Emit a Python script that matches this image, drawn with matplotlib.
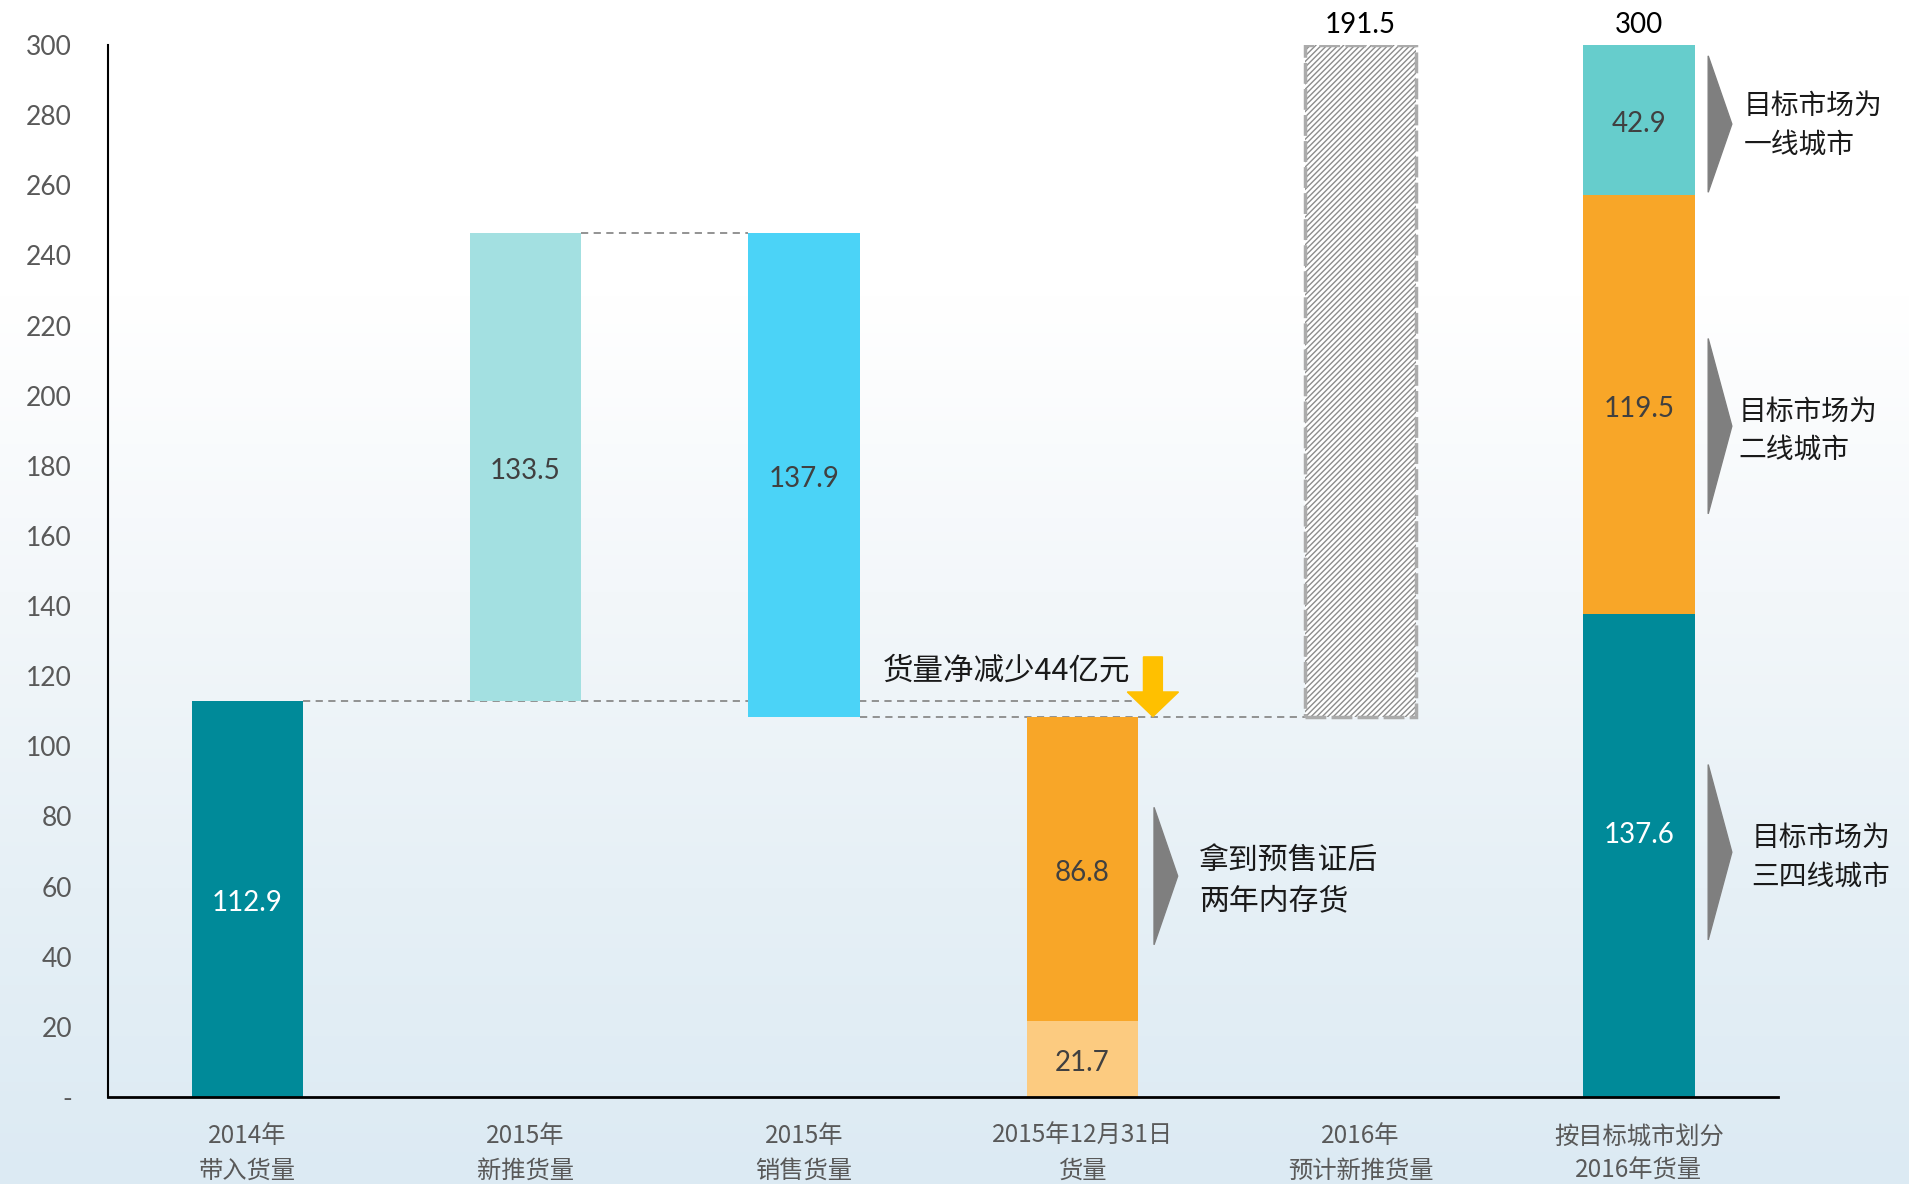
import numpy as np
import matplotlib
matplotlib.use("Agg")
import matplotlib.pyplot as plt
from matplotlib.patches import Polygon
from matplotlib.colors import LinearSegmentedColormap

# ---------------- data ----------------
categories = ["2014年\n带入货量", "2015年\n新推货量", "2015年\n销售货量",
              "2015年12月31日\n货量", "2016年\n预计新推货量", "按目标城市划分\n2016年货量"]
carry_2014 = 112.9
new_2015 = 133.5
sold_2015 = 137.9
stock_old = 21.7
stock_2yr = 86.8
new_2016 = 191.5
tier34 = 137.6
tier2 = 119.5
tier1 = 42.9
total_2016 = 300
net_decrease_text = "货量净减少44亿元"
yticks = list(range(0, 301, 20))
ytick_labels = ["-"] + [str(v) for v in yticks[1:]]

# ---------------- style ----------------
C_TEAL = "#008A99"
C_LTEAL = "#A3E0E1"
C_CYAN = "#4BD3F7"
C_ORANGE = "#F8A628"
C_LORANGE = "#FCCB80"
C_TURQ = "#66CDCC"
C_GRAY = "#7F7F7F"
TXT_GRAY = "#595959"
CJK = ["Noto Sans CJK SC", "DejaVu Sans"]
NUM = ["Lato", "DejaVu Sans"]

fig = plt.figure(figsize=(19.09, 11.84), dpi=100)

# background gradient
bg = fig.add_axes([0, 0, 1, 1], zorder=-10)
grad = np.linspace(0, 1, 256).reshape(-1, 1)
cmap = LinearSegmentedColormap.from_list("bg", ["#FFFFFF", "#FFFFFF", "#F3F7FA", "#E6F0F6", "#DCEAF3"])
bg.imshow(grad, aspect="auto", cmap=cmap, extent=[0, 1, 0, 1], origin="upper")
bg.axis("off")

ax = fig.add_axes([0.0566, 0.0735, 0.8748, 0.8885])
ax.patch.set_alpha(0)
x = np.arange(len(categories))
w = 0.4

# bars
ax.bar(x[0], carry_2014, w, color=C_TEAL, zorder=3)
ax.bar(x[1], new_2015, w, bottom=carry_2014, color=C_LTEAL, zorder=3)
top_2015 = carry_2014 + new_2015
end_2015 = top_2015 - sold_2015
ax.bar(x[2], sold_2015, w, bottom=end_2015, color=C_CYAN, zorder=3)
ax.bar(x[3], stock_old, w, color=C_LORANGE, zorder=3)
ax.bar(x[3], stock_2yr, w, bottom=stock_old, color=C_ORANGE, zorder=3)
ax.bar(x[4], new_2016, w, bottom=end_2015, color="white", edgecolor="#8C8C8C",
       hatch="//////", linewidth=0, zorder=3)
ax.bar(x[4], new_2016, w, bottom=end_2015, fill=False, edgecolor="#ABABAB",
       linewidth=2.5, linestyle=(0, (6, 1.5)), zorder=4)
ax.bar(x[5], tier34, w, color=C_TEAL, zorder=3)
ax.bar(x[5], tier2, w, bottom=tier34, color=C_ORANGE, zorder=3)
ax.bar(x[5], tier1, w, bottom=tier34 + tier2, color=C_TURQ, zorder=3)

# value labels
lab_kw = dict(ha="center", va="center", fontsize=20, family=NUM, zorder=6)
dy = -1.2
ax.text(x[0], carry_2014 / 2 + dy, f"{carry_2014}", color="white", **lab_kw)
ax.text(x[1], carry_2014 + new_2015 / 2 + dy, f"{new_2015}", color="#404040", **lab_kw)
ax.text(x[2], end_2015 + sold_2015 / 2 + dy, f"{sold_2015}", color="#404040", **lab_kw)
ax.text(x[3], stock_old / 2 + dy, f"{stock_old}", color="#404040", **lab_kw)
ax.text(x[3], stock_old + stock_2yr / 2 + dy, f"{stock_2yr}", color="#404040", **lab_kw)
ax.text(x[5], tier34 / 2 + 7 + dy, f"{tier34}", color="white", **lab_kw)
ax.text(x[5], tier34 + tier2 / 2 + dy, f"{tier2}", color="#404040", **lab_kw)
ax.text(x[5], tier34 + tier2 + tier1 / 2 + dy, f"{tier1}", color="#404040", **lab_kw)
for xi, val in [(x[4], new_2016), (x[5], total_2016)]:
    ax.annotate(f"{val}", (xi, total_2016), xytext=(0, 5), textcoords="offset points",
                ha="center", va="bottom", fontsize=20, family=NUM, color="black",
                annotation_clip=False)

# dashed connectors
dash_kw = dict(color="#8A8A8A", linestyle=(0, (4, 3)), linewidth=1.3, zorder=2)
ax.plot([x[0] + w / 2, x[3] + 0.22], [carry_2014, carry_2014], **dash_kw)
ax.plot([x[1] + w / 2, x[2] - w / 2], [top_2015, top_2015], **dash_kw)
ax.plot([x[2] + w / 2, x[4] - w / 2], [end_2015, end_2015], **dash_kw)

# yellow down arrow
ax_c = 3.254
arrow = Polygon([(ax_c - 0.034, 125.5), (ax_c + 0.034, 125.5), (ax_c + 0.034, 115.5),
                 (ax_c + 0.092, 115.5), (ax_c, end_2015), (ax_c - 0.092, 115.5),
                 (ax_c - 0.034, 115.5)], closed=True, color="#FFC000", zorder=5)
ax.add_patch(arrow)
ax.text(2.729, 121.6, net_decrease_text, ha="center", va="center", fontsize=22,
        family=CJK, color="#1A1A1A", zorder=6)

# gray chevrons with notes
def chevron(x0, y_top, y_bot, depth=0.085):
    ax.add_patch(Polygon([(x0, y_top), (x0 + depth, (y_top + y_bot) / 2), (x0, y_bot)],
                         closed=True, color=C_GRAY, zorder=5))

chevron(3.258, 82.6, 43.4)
chevron(5.249, 296.9, 258.0)
chevron(5.249, 216.3, 166.3)
chevron(5.249, 94.8, 44.8)
note_kw = dict(ha="left", va="center", family=CJK, color="#1A1A1A",
               linespacing=1.38, zorder=6)
ax.text(3.42, 61.8, "拿到预售证后\n两年内存货", fontsize=21.5, **note_kw)
ax.text(5.376, 277.0, "目标市场为\n一线城市", fontsize=20, **note_kw)
ax.text(5.358, 190.0, "目标市场为\n二线城市", fontsize=20, **note_kw)
ax.text(5.405, 68.3, "目标市场为\n三四线城市", fontsize=20, **note_kw)

# axes
ax.set_xlim(-0.5, 5.5)
ax.set_ylim(0, 300)
ax.set_yticks(yticks)
ax.set_yticklabels(ytick_labels, family=NUM, fontsize=19, color=TXT_GRAY)
ax.set_xticks(x)
ax.set_xticklabels(categories, family=CJK, fontsize=17.5, color=TXT_GRAY, linespacing=1.4)
ax.tick_params(axis="y", length=0, pad=26)
ax.tick_params(axis="x", length=0, pad=19)
for s in ["top", "right"]:
    ax.spines[s].set_visible(False)
ax.spines["left"].set_linewidth(1.5)
ax.spines["bottom"].set_linewidth(2)
ax.spines["left"].set_zorder(7)
ax.spines["bottom"].set_zorder(7)

fig.savefig("out.png", dpi=100)
